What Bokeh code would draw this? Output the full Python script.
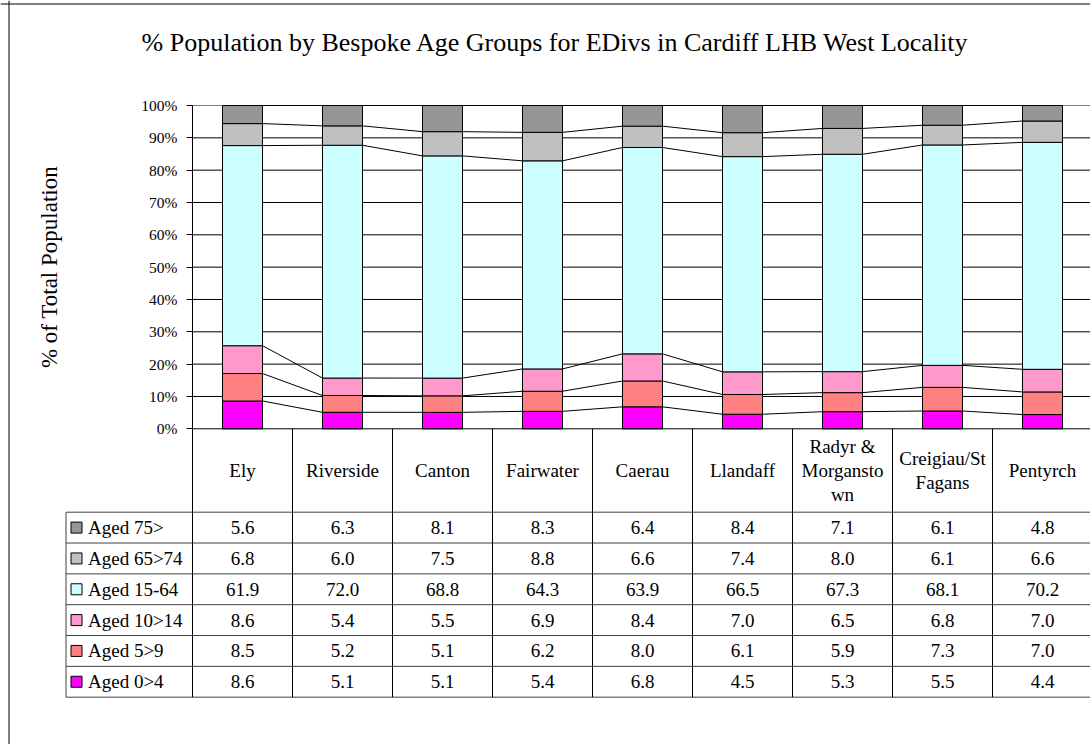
import numpy as np
from bokeh.plotting import figure
from bokeh.models import (Range1d, LinearAxis, FixedTicker, PrintfTickFormatter, Span)
from bokeh.core.properties import value
from bokeh.embed import file_html
from bokeh.resources import INLINE

# ---------------- data ----------------
title_text = "% Population by Bespoke Age Groups for EDivs in Cardiff LHB West Locality"
y_label = "% of Total Population"
categories = ["Ely", "Riverside", "Canton", "Fairwater", "Caerau", "Llandaff",
              "Radyr &\nMorgansto\nwn", "Creigiau/St\nFagans", "Pentyrch"]
series_names = ["Aged 0>4", "Aged 5>9", "Aged 10>14", "Aged 15-64", "Aged 65>74", "Aged 75>"]
aged_0_4 = [8.6, 5.1, 5.1, 5.4, 6.8, 4.5, 5.3, 5.5, 4.4]
aged_5_9 = [8.5, 5.2, 5.1, 6.2, 8.0, 6.1, 5.9, 7.3, 7.0]
aged_10_14 = [8.6, 5.4, 5.5, 6.9, 8.4, 7.0, 6.5, 6.8, 7.0]
aged_15_64 = [61.9, 72.0, 68.8, 64.3, 63.9, 66.5, 67.3, 68.1, 70.2]
aged_65_74 = [6.8, 6.0, 7.5, 8.8, 6.6, 7.4, 8.0, 6.1, 6.6]
aged_75 = [5.6, 6.3, 8.1, 8.3, 6.4, 8.4, 7.1, 6.1, 4.8]
colors = ["#FF00FF", "#FF8080", "#FF99CC", "#CCFFFF", "#C0C0C0", "#969696"]
y_ticks = list(range(0, 101, 10))

series = [aged_0_4, aged_5_9, aged_10_14, aged_15_64, aged_65_74, aged_75]

# ---------------- layout (canvas pixels -> data units) ----------------
CW, CH = 1090, 744
PLOT_LEFT = 192.0      # canvas x of plot-area left edge
PX_X = 100.0           # pixels per category
ZERO_Y = 428.3         # canvas y of 0%
PX_Y = 3.233           # pixels per percent

def dx(cx):
    return (cx - PLOT_LEFT) / PX_X

def dy(cy):
    return (ZERO_Y - cy) / PX_Y

FONT = "Liberation Serif"
n = len(categories)
xc = np.arange(n) + 0.5

p = figure(width=CW, height=CH, x_range=Range1d(dx(0), dx(CW)), y_range=Range1d(dy(CH), dy(0)),
           x_axis_type=None, y_axis_type=None, min_border=0, toolbar_location=None,
           output_backend="svg", outline_line_color=None)
p.background_fill_color = "white"
p.border_fill_color = "white"

# outer chart border (left and top)
p.add_layout(Span(location=dx(8.5), dimension="height", line_color="black", line_width=1))
p.add_layout(Span(location=dy(3.5), dimension="width", line_color="black", line_width=1))

# title
p.text(x=[dx(555)], y=[dy(42)], text=[title_text], text_align="center",
       text_baseline="middle", text_font=value(FONT), text_font_size="26px",
       text_color="black")

# gridlines in plot area
gy = [t for t in y_ticks if t > 0]
p.segment(x0=[0] * len(gy), x1=[n] * len(gy), y0=gy, y1=gy,
          line_color=["black"] * (len(gy) - 1) + ["#808080"], line_width=1)

# stacked 100% bars
vals = np.array(series, dtype=float)
pct = vals / vals.sum(axis=0) * 100.0
tops = np.cumsum(pct, axis=0)
bottoms = tops - pct
for k in range(len(series)):
    p.vbar(x=xc, width=0.4, bottom=bottoms[k], top=tops[k], fill_color=colors[k],
           line_color="black", line_width=1)

# series lines
sx0, sx1, sy0, sy1 = [], [], [], []
for k in range(len(series)):
    for i in range(n - 1):
        sx0.append(xc[i] + 0.2)
        sx1.append(xc[i + 1] - 0.2)
        sy0.append(tops[k][i])
        sy1.append(tops[k][i + 1])
p.segment(x0=sx0, y0=sy0, x1=sx1, y1=sy1, line_color="black", line_width=1)

# y axis at plot-area left
yax = LinearAxis(fixed_location=0, bounds=(0, 100), ticker=FixedTicker(ticks=y_ticks),
                 formatter=PrintfTickFormatter(format="%d%%"))
yax.major_tick_out = 6
yax.major_tick_in = 0
yax.minor_tick_line_color = None
yax.axis_line_color = "black"
yax.major_tick_line_color = "black"
yax.major_label_text_font = FONT
yax.major_label_text_font_size = "15.5px"
yax.major_label_text_color = "black"
yax.major_label_standoff = 9
yax.axis_label = y_label
yax.axis_label_text_font = FONT
yax.axis_label_text_font_style = "normal"
yax.axis_label_text_font_size = "23px"
yax.axis_label_text_color = "black"
yax.axis_label_standoff = 76
p.add_layout(yax, "left")

# ---------------- data table ----------------
HEADER_BOTTOM = 511.7   # canvas y
ROW_H = 30.83
LEG_LEFT = 65.5
row_order = list(range(len(series)))[::-1]   # 75> on top
n_rows = len(row_order)
table_bottom_cy = HEADER_BOTTOM + n_rows * ROW_H

# horizontal lines
hy = [dy(HEADER_BOTTOM + r * ROW_H) for r in range(n_rows + 1)]
p.segment(x0=[dx(LEG_LEFT)] * len(hy), x1=[n] * len(hy), y0=hy, y1=hy,
          line_color="#404040", line_width=1)
p.segment(x0=[0], x1=[n], y0=[0], y1=[0], line_color="black", line_width=1)
# vertical lines
vx = list(range(n + 1))
p.segment(x0=vx, x1=vx, y0=[0] * len(vx), y1=[dy(table_bottom_cy)] * len(vx),
          line_color="black", line_width=1)
p.segment(x0=[dx(LEG_LEFT)], x1=[dx(LEG_LEFT)], y0=[dy(HEADER_BOTTOM)],
          y1=[dy(table_bottom_cy)], line_color="#404040", line_width=1)

# header labels
p.text(x=xc, y=[dy(HEADER_BOTTOM / 2 + ZERO_Y / 2)] * n, text=categories,
       text_align="center", text_baseline="middle", text_font=value(FONT),
       text_font_size="19px", text_color="black", text_line_height=1.15)

# rows
for r, k in enumerate(row_order):
    cy = HEADER_BOTTOM + (r + 0.5) * ROW_H
    p.text(x=xc, y=[dy(cy)] * n, text=[f"{v:.1f}" for v in series[k]],
           text_align="center", text_baseline="middle", text_font=value(FONT),
           text_font_size="19px", text_color="black")
    p.scatter(x=[dx(76)], y=[dy(cy)], marker="square", size=11,
              fill_color=colors[k], line_color="black", line_width=1)
    p.text(x=[dx(87.5)], y=[dy(cy)], text=[series_names[k]], text_align="left",
           text_baseline="middle", text_font=value(FONT), text_font_size="19px",
           text_color="black")

open("out.html", "w").write(file_html(p, INLINE))
